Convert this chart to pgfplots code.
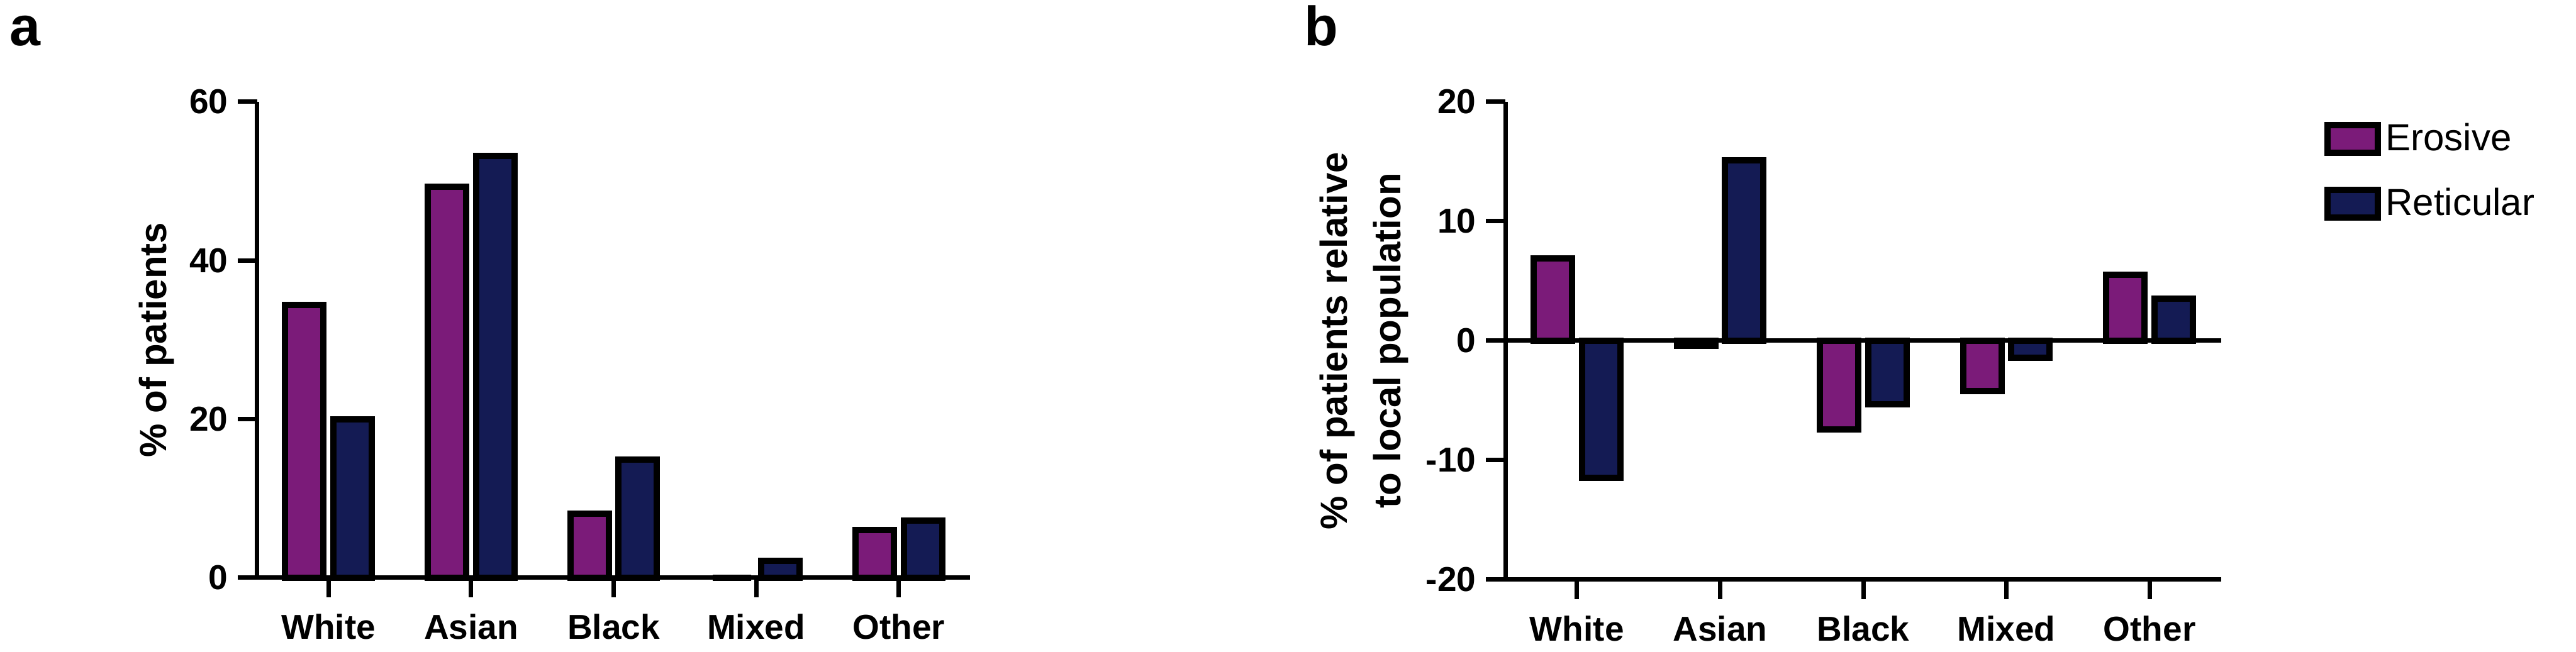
\documentclass[border=0pt]{standalone}
\usepackage{fontspec}
\setmainfont{Liberation Sans}
\usepackage{pgfplots}
\pgfplotsset{compat=1.18}
\definecolor{erosive}{HTML}{7B1B79}
\definecolor{reticular}{HTML}{141B54}

\pgfplotstableread{
x  ero   ret
0  34.4  20.0
1  49.3  53.2
2  8.1   14.9
3  0.0   2.1
4  6.0   7.2
}\tablea
\pgfplotstableread{
x  ero   ret
0  6.9   -11.5
1  -0.4  15.1
2  -7.4  -5.3
3  -4.2  -1.4
4  5.5   3.5
}\tableb

\pgfplotsset{
  common/.style={
    scale only axis, anchor=south west,
    axis lines=left, axis line style={-, line width=1.75pt},
    xmin=-0.5, xmax=4.5,
    xtick={0,1,2,3,4}, xticklabels={White,Asian,Black,Mixed,Other},
    tick align=outside, major tick length=7.75pt,
    every tick/.style={black, line width=1.75pt},
    /pgf/number format/assume math mode=true,
    ticklabel style={font=\bfseries\fontsize{13.75}{14}\selectfont},
    yticklabel style={inner sep=0pt, xshift=-3.75pt},
    xticklabel style={inner sep=0pt, yshift=-6.5pt},
    clip=false,
  },
  mybox/.style={legend image code/.code={\draw[##1, line width=2.5pt] (0pt,-5.5pt) rectangle (20pt,5.5pt);}},
  barE/.style={ybar, bar width=15.25pt, bar shift=-9.6pt, fill=erosive, draw=black, line width=2.5pt, mybox},
  barR/.style={ybar, bar width=15.25pt, bar shift=9.6pt, fill=reticular, draw=black, line width=2.5pt, mybox},
}

\begin{document}
\begin{tikzpicture}
\useasboundingbox (0,0) rectangle (1023.75pt,259.25pt);

\node[anchor=base west, inner sep=0pt, font=\bfseries\fontsize{22}{22}\selectfont] at (3.75pt,241pt) {a};
\node[anchor=base west, inner sep=0pt, font=\bfseries\fontsize{22}{22}\selectfont] at (518.25pt,241pt) {b};

\begin{axis}[common,
  at={(102.25pt,29.5pt)}, width=283.25pt, height=189.25pt,
  ymin=0, ymax=60, ytick={0,20,40,60},
  ylabel={\% of patients},
  ylabel style={at={(axis description cs:-0.1156,0.5)}, anchor=south, inner sep=0pt, font=\bfseries\fontsize{15}{18}\selectfont},
]
\addplot[barE] table[x=x, y=ero] {\tablea};
\addplot[barR] table[x=x, y=ret] {\tablea};
\end{axis}

\begin{axis}[common,
  at={(598.25pt,28.75pt)}, width=284.5pt, height=190pt,
  ymin=-20, ymax=20, ytick={-20,-10,0,10,20},
  ylabel={\% of patients relative\\to local population},
  ylabel style={at={(axis description cs:-0.1344,0.5)}, anchor=south, inner sep=0pt, align=center, font=\bfseries\fontsize{15}{21.25}\selectfont},
  legend style={at={(rel axis cs:1.143,0.967)}, anchor=north west, draw=none, fill=none, inner sep=0pt,
    font=\fontsize{15}{18}\selectfont, row sep=9.5pt,
    nodes={inner sep=2pt},
    /tikz/every even column/.append style={column sep=5pt}},
  legend cell align=left,
]
\addplot[barE] table[x=x, y=ero] {\tableb};
\addlegendentry{Erosive}
\addplot[barR] table[x=x, y=ret] {\tableb};
\addlegendentry{Reticular}
\draw[black, line width=1.75pt] (axis cs:-0.5,0) -- (axis cs:4.5,0);
\end{axis}
\end{tikzpicture}
\end{document}
